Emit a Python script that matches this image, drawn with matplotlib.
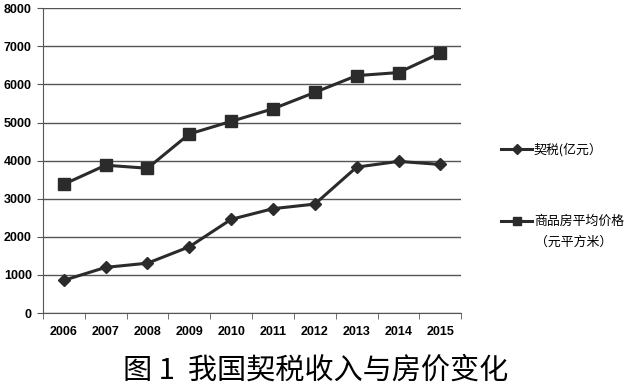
import matplotlib.pyplot as plt
import numpy as np

plt.rcParams['font.family'] = ['Noto Sans CJK SC', 'DejaVu Sans']

years = ['2006', '2007', '2008', '2009', '2010', '2011', '2012', '2013', '2014', '2015']
deed_tax = [860, 1200, 1310, 1740, 2460, 2740, 2860, 3830, 3980, 3900]
house_price = [3380, 3880, 3800, 4700, 5030, 5360, 5790, 6230, 6310, 6820]

fig = plt.figure(figsize=(6.31, 3.88), dpi=100)
ax = fig.add_axes([0.068, 0.193, 0.663, 0.786])

x = np.arange(len(years))
line_col = '#2b2b2b'
ax.plot(x, deed_tax, color=line_col, lw=2.2, marker='D', ms=6, label='契税(亿元）')
ax.plot(x, house_price, color=line_col, lw=2.2, marker='s', ms=8,
        label='商品房平均价格')

ax.set_xlim(-0.5, len(years) - 0.5)
ax.set_ylim(0, 8000)
ax.set_yticks(range(0, 8001, 1000))
ax.yaxis.grid(True, color='#555555', lw=1)
ax.set_axisbelow(True)

ax.set_xticks(x)
ax.set_xticklabels(years)
ax.set_xticks(np.arange(-0.5, len(years)), minor=True)
ax.tick_params(axis='x', which='major', length=0, pad=9)
ax.tick_params(axis='x', which='minor', length=4, color='#555555', direction='out')
ax.tick_params(axis='y', length=4, color='#555555', direction='out', pad=4)
for lab in ax.get_xticklabels() + ax.get_yticklabels():
    lab.set_fontsize(9)
    lab.set_fontweight('bold')
    lab.set_family('Liberation Sans')

for s in ['top', 'right']:
    ax.spines[s].set_visible(False)
ax.spines['left'].set_color('#555555')
ax.spines['bottom'].set_color('#555555')

leg = ax.legend(loc='upper left', bbox_to_anchor=(1.095, 0.557), frameon=False,
                fontsize=9.3, handlelength=2.4, handletextpad=0.15,
                labelspacing=4.5, markerscale=0.8, borderpad=0, borderaxespad=0)

fig.text(0.848, 0.376, '（元平方米）', ha='left', va='center', fontsize=9.3)

fig.text(0.5, 0.045, '图 1  我国契税收入与房价变化', ha='center', va='center', fontsize=21)

fig.savefig('out.png', dpi=100)
